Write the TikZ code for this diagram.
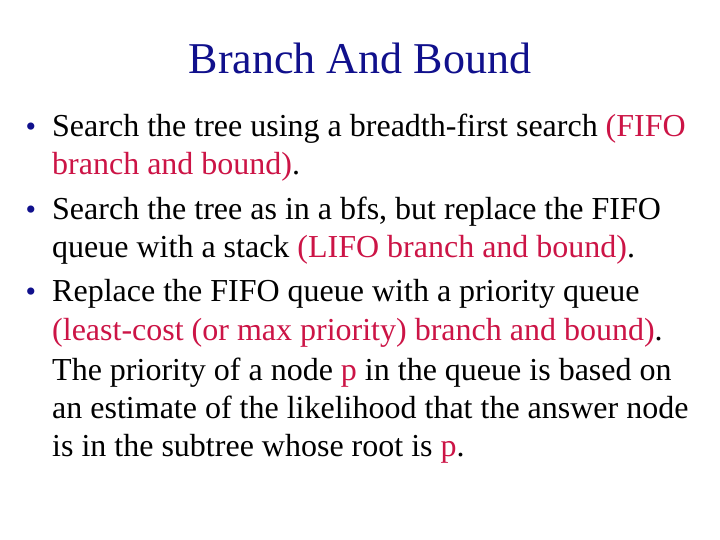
\documentclass[tikz,border=0pt]{standalone}
\usepackage{fontspec}
\setmainfont{Liberation Serif}
\definecolor{navy}{RGB}{16,16,140}
\definecolor{hl}{RGB}{204,20,70}
\begin{document}
\begin{tikzpicture}[x=1pt,y=-1pt,
  txt/.style={anchor=base west,inner sep=0pt,font=\fontsize{32}{38}\selectfont},
  bul/.style={anchor=base,inner sep=0pt,text=navy,font=\fontsize{30}{34}\selectfont}]
\useasboundingbox[fill=white] (0,0) rectangle (720,540);
\node[anchor=base,inner sep=0pt,text=navy,font=\fontsize{44}{50}\selectfont] (title) at (360,74) {Branch And Bound};
\node[bul] (b1) at (31,137) {•};
\node[txt] (l1) at (52,137) {Search the tree using a breadth-first search \textcolor{hl}{(FIFO}};
\node[txt] (l2) at (52,175) {\textcolor{hl}{branch and bound)}.};
\node[bul] (b2) at (31,219) {•};
\node[txt] (l3) at (52,219) {Search the tree as in a bfs, but replace the FIFO};
\node[txt] (l4) at (52,257) {queue with a stack \textcolor{hl}{(LIFO branch and bound)}.};
\node[bul] (b3) at (31,301) {•};
\node[txt] (l5) at (52,301) {Replace the FIFO queue with a priority queue};
\node[txt] (l6) at (52,340) {\textcolor{hl}{(least-cost (or max priority) branch and bound)}.};
\node[txt] (l7) at (52,380) {The priority of a node \textcolor{hl}{p} in the queue is based on};
\node[txt] (l8) at (52,418) {an estimate of the likelihood that the answer node};
\node[txt] (l9) at (52,456) {is in the subtree whose root is \textcolor{hl}{p}.};
\end{tikzpicture}
\end{document}
